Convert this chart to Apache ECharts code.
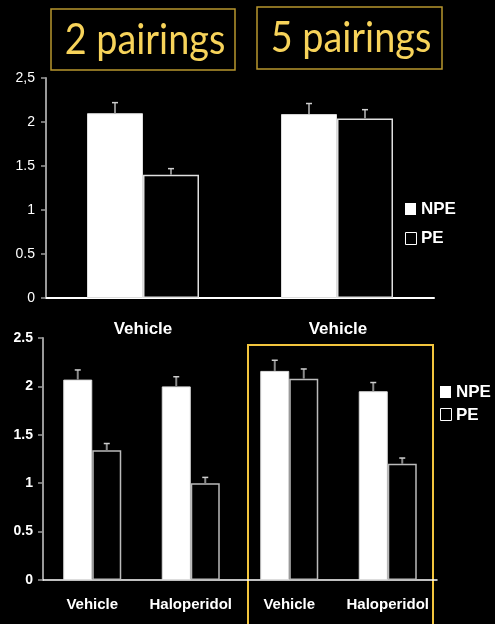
<!DOCTYPE html>
<html><head><meta charset="utf-8">
<script src="https://cdn.jsdelivr.net/npm/echarts@6/dist/echarts.min.js"></script>
<style>html,body{margin:0;padding:0;background:#000;}#c{width:495px;height:624px;}</style>
</head><body><div id="c"></div>
<script>
// Top chart (2 vs 5 pairings)
const topCategories = ['2 pairings', '5 pairings'];
const topNPE = [2.10, 2.09];
const topNPEErr = [0.12, 0.12];
const topPE = [1.40, 2.04];
const topPEErr = [0.07, 0.10];
const topTickLabels = ['0', '0.5', '1', '1.5', '2', '2,5'];

// Bottom chart
const bottomCategories = ['Vehicle', 'Haloperidol', 'Vehicle', 'Haloperidol'];
const bottomNPE = [2.07, 2.00, 2.16, 1.95];
const bottomNPEErr = [0.10, 0.10, 0.11, 0.09];
const bottomPE = [1.34, 1.00, 2.08, 1.20];
const bottomPEErr = [0.07, 0.06, 0.10, 0.06];
const bottomTickLabels = ['0', '0.5', '1', '1.5', '2', '2.5'];
const groupLabels = ['Vehicle', 'Vehicle'];
const titles = ['2 pairings', '5 pairings'];

const chart = echarts.init(document.getElementById('c'));
const TOP_BW = 56, BOT_BW = 29;

function errSeries(gi, vals, errs, side, bw) {
  return {
    type: 'custom', xAxisIndex: gi, yAxisIndex: gi, z: 5,
    data: vals.map((v, i) => [i, v, errs[i]]),
    renderItem: function (params, api) {
      const base = api.coord([api.value(0), api.value(1)]);
      const top = api.coord([api.value(0), api.value(1) + api.value(2)]);
      const x = base[0] + side * bw / 2;
      return { type: 'group', children: [
        { type: 'line', shape: { x1: x, y1: base[1], x2: x, y2: top[1] }, style: { stroke: '#8a8a8a', lineWidth: 2 } },
        { type: 'line', shape: { x1: x - 3, y1: top[1], x2: x + 3, y2: top[1] }, style: { stroke: '#cfcfcf', lineWidth: 1.5 } }
      ]};
    }
  };
}

const yAxisBase = (labels, bold, fs, margin) => ({
  type: 'value', min: 0, max: 2.5, interval: 0.5,
  splitLine: { show: false },
  axisLine: { show: true, lineStyle: { color: '#9a9a9a', width: 2 } },
  axisTick: { show: true, length: 5, lineStyle: { color: '#9a9a9a', width: 1.5 } },
  axisLabel: { color: '#fff', fontFamily: 'Liberation Sans, Arial', fontSize: fs, fontWeight: bold ? 'bold' : 'normal', margin: margin,
    formatter: v => labels[Math.round(v / 0.5)] }
});

chart.setOption({
  backgroundColor: '#000',
  animation: false,
  grid: [
    { left: 46, right: 61, top: 78, bottom: 326 },
    { left: 43, right: 58, top: 338, bottom: 44 }
  ],
  xAxis: [
    { type: 'category', gridIndex: 0, data: topCategories,
      axisLine: { lineStyle: { color: '#fff', width: 2 } }, axisTick: { show: false }, axisLabel: { show: false } },
    { type: 'category', gridIndex: 1, data: bottomCategories,
      axisLine: { lineStyle: { color: '#fff', width: 1.5 } }, axisTick: { show: false },
      axisLabel: { interval: 0, color: '#fff', fontFamily: 'Liberation Sans, Arial', fontWeight: 'bold', fontSize: 15, margin: 17 } }
  ],
  yAxis: [
    Object.assign({ gridIndex: 0 }, yAxisBase(topTickLabels, false, 14, 11)),
    Object.assign({ gridIndex: 1 }, yAxisBase(bottomTickLabels, true, 14, 10))
  ],
  series: [
    { type: 'bar', xAxisIndex: 0, yAxisIndex: 0, data: topNPE, barWidth: TOP_BW, barGap: '0%',
      itemStyle: { color: '#fff', borderColor: '#ddd', borderWidth: 1 } },
    { type: 'bar', xAxisIndex: 0, yAxisIndex: 0, data: topPE, barWidth: TOP_BW, barGap: '0%',
      itemStyle: { color: '#000', borderColor: '#e0e0e0', borderWidth: 1.5 } },
    { type: 'bar', xAxisIndex: 1, yAxisIndex: 1, data: bottomNPE, barWidth: BOT_BW, barGap: '0%',
      itemStyle: { color: '#fff', borderColor: '#ddd', borderWidth: 1 } },
    { type: 'bar', xAxisIndex: 1, yAxisIndex: 1, data: bottomPE, barWidth: BOT_BW, barGap: '0%',
      itemStyle: { color: '#000', borderColor: '#bbb', borderWidth: 1.5 } },
    errSeries(0, topNPE, topNPEErr, -1, TOP_BW),
    errSeries(0, topPE, topPEErr, 1, TOP_BW),
    errSeries(1, bottomNPE, bottomNPEErr, -1, BOT_BW),
    errSeries(1, bottomPE, bottomPEErr, 1, BOT_BW)
  ],
  graphic: [
    // title boxes
    { type: 'rect', shape: { x: 51, y: 9, width: 184, height: 61 }, style: { fill: 'none', stroke: '#b8962e', lineWidth: 1.5 } },
    { type: 'rect', shape: { x: 257, y: 7, width: 185, height: 62 }, style: { fill: 'none', stroke: '#b8962e', lineWidth: 1.5 } },
    { type: 'text', x: 145, y: 40, scaleX: 0.9, style: { text: titles[0], fill: '#f7d35a', font: '42px Lato', align: 'center', verticalAlign: 'middle' } },
    { type: 'text', x: 351, y: 38, scaleX: 0.9, style: { text: titles[1], fill: '#f7d35a', font: '42px Lato', align: 'center', verticalAlign: 'middle' } },
    // top legend
    { type: 'rect', shape: { x: 405, y: 203, width: 11, height: 12 }, style: { fill: '#fff' } },
    { type: 'text', x: 421, y: 209, style: { text: 'NPE', fill: '#fff', font: 'bold 17px Liberation Sans', verticalAlign: 'middle' } },
    { type: 'rect', shape: { x: 405.5, y: 232.5, width: 11, height: 12 }, style: { fill: 'none', stroke: '#fff', lineWidth: 1 } },
    { type: 'text', x: 421, y: 238, style: { text: 'PE', fill: '#fff', font: 'bold 17px Liberation Sans', verticalAlign: 'middle' } },
    // bottom group labels
    { type: 'text', x: 143, y: 329, style: { text: groupLabels[0], fill: '#fff', font: 'bold 17px Liberation Sans', align: 'center', verticalAlign: 'middle' } },
    { type: 'text', x: 338, y: 329, style: { text: groupLabels[1], fill: '#fff', font: 'bold 17px Liberation Sans', align: 'center', verticalAlign: 'middle' } },
    // bottom highlight box
    { type: 'rect', shape: { x: 248, y: 345, width: 185, height: 300 }, style: { fill: 'none', stroke: '#f2c53d', lineWidth: 2 } },
    // bottom legend
    { type: 'rect', shape: { x: 440, y: 386, width: 11, height: 12 }, style: { fill: '#fff' } },
    { type: 'text', x: 456, y: 392, style: { text: 'NPE', fill: '#fff', font: 'bold 17px Liberation Sans', verticalAlign: 'middle' } },
    { type: 'rect', shape: { x: 440.5, y: 408.5, width: 11, height: 12 }, style: { fill: 'none', stroke: '#fff', lineWidth: 1 } },
    { type: 'text', x: 456, y: 415, style: { text: 'PE', fill: '#fff', font: 'bold 17px Liberation Sans', verticalAlign: 'middle' } }
  ]
});
</script></body></html>
